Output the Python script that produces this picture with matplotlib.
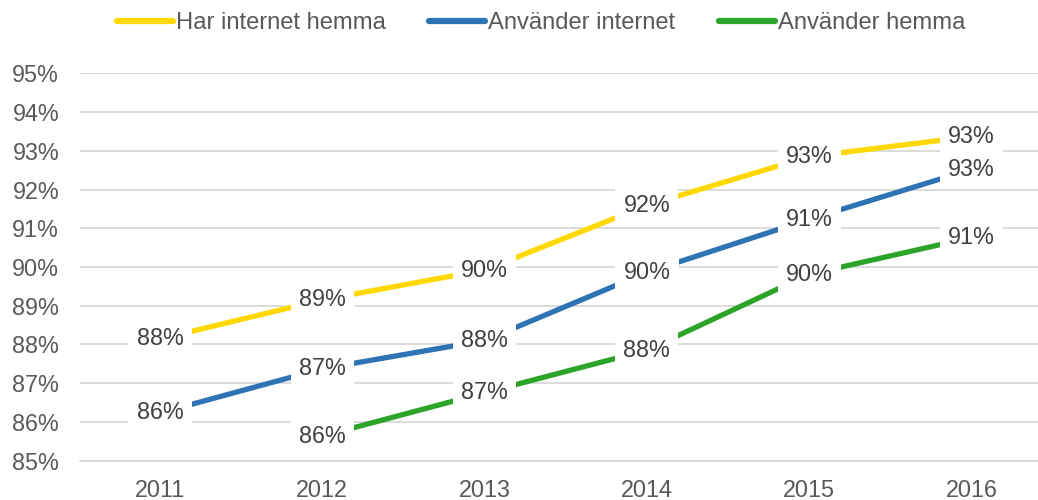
import matplotlib.pyplot as plt
import numpy as np

plt.rcParams['font.family'] = ['Liberation Sans', 'DejaVu Sans']

years = ["2011", "2012", "2013", "2014", "2015", "2016"]
har_internet_hemma = [88.14, 89.15, 89.92, 91.59, 92.85, 93.37]
anvander_internet = [86.23, 87.37, 88.10, 89.86, 91.23, 92.52]
anvander_hemma = [np.nan, 85.63, 86.75, 87.85, 89.81, 90.76]

series = [
    ("Har internet hemma", har_internet_hemma, "#FFD800"),
    ("Använder internet", anvander_internet, "#2E74B5"),
    ("Använder hemma", anvander_hemma, "#2CA42A"),
]

fig = plt.figure(figsize=(10.38, 5.0), dpi=100)
ax = fig.add_axes([80 / 1038, 1 - 460.5 / 500, 1 - 80 / 1038, (460.5 - 73.4) / 500])

x = np.arange(len(years))
handles = []
for name, vals, col in series:
    ln, = ax.plot(x, vals, color=col, lw=3.8, solid_capstyle="butt", zorder=3, label=name)
    handles.append(ln)
    for xi, v in zip(x, vals):
        if np.isnan(v):
            continue
        ax.text(xi, v, f"{v:.0f}%", ha="center", va="center", fontsize=16.8,
                color="#404040", zorder=5,
                bbox=dict(boxstyle="square,pad=0.35", fc="white", ec="none"))

ax.set_xlim(-0.493, 5.41)
ax.set_ylim(85, 95)
ax.set_yticks(range(85, 96))
ax.set_yticklabels([f"{v}%" for v in range(85, 96)])
ax.set_xticks(x)
ax.set_xticklabels(years)
ax.grid(axis="y", color="#D9D9D9", lw=1.3, zorder=0)
ax.set_axisbelow(True)
for s in ["top", "right", "left"]:
    ax.spines[s].set_visible(False)
ax.spines["bottom"].set_color("#D9D9D9")
ax.spines["bottom"].set_linewidth(1.3)
ax.tick_params(axis="both", length=0, labelsize=16.8, colors="#595959")
ax.tick_params(axis="y", pad=15)
ax.tick_params(axis="x", pad=13)

leg = fig.legend(handles=handles, loc="center", bbox_to_anchor=(541 / 1038, 1 - 23 / 500),
                 ncol=3, frameon=False, fontsize=17.1, handlelength=2.35,
                 handletextpad=0.12, columnspacing=1.85, labelcolor="#595959")
for h in leg.get_lines():
    h.set_linewidth(4.5)
    h.set_solid_capstyle("round")

fig.savefig("out.png", dpi=100)
